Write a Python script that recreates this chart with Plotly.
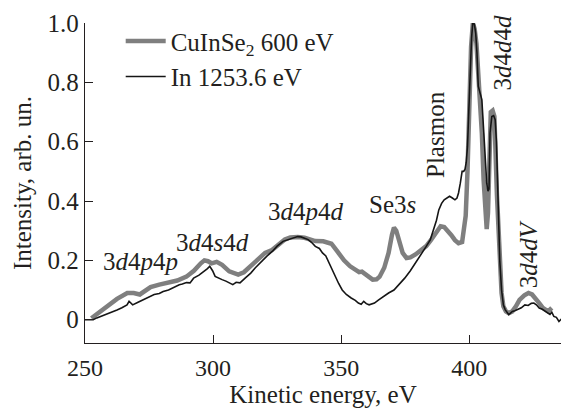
import plotly.graph_objects as go

# CuInSe2 600 eV (gray, thick)
cis_x = [252.5, 255.5, 258.8, 262.5, 266.5, 269.0, 271.4, 273.5, 275.6, 279.0, 282.6, 286.0, 289.6,
         292.5, 295.2, 296.6, 298.0, 299.4, 301.4, 303.5, 306.3, 309.8, 312.0, 314.7, 317.5, 320.3,
         323.0, 325.9, 328.0, 330.1, 333.0, 335.7, 338.0, 339.9, 343.0, 346.2, 348.5, 351.1, 353.5,
         355.3, 357.0, 358.1, 359.5, 361.0, 362.3, 363.8, 365.0, 366.8, 368.5, 369.8, 370.6, 371.5,
         372.7, 374.0, 375.5, 377.0, 379.0, 381.0, 383.2, 385.0, 386.7, 388.8, 390.2, 391.6, 393.0,
         394.4, 395.8, 397.2, 398.6, 399.3, 400.0, 400.7, 401.4, 402.1, 402.8, 403.8, 404.9, 405.6,
         406.3, 406.8, 407.3, 407.9, 408.4, 409.1, 409.8, 410.8, 411.9, 412.6, 413.3, 414.3, 415.4,
         416.8, 418.2, 419.6, 421.5, 423.1, 424.5, 425.9, 427.3, 428.7, 430.8, 432.2]
cis_y = [0.005, 0.025, 0.048, 0.07, 0.09, 0.09, 0.085, 0.098, 0.11, 0.118, 0.124, 0.132, 0.145,
         0.165, 0.19, 0.2, 0.197, 0.19, 0.195, 0.185, 0.163, 0.152, 0.16, 0.18, 0.2, 0.225,
         0.235, 0.258, 0.27, 0.277, 0.279, 0.276, 0.27, 0.265, 0.264, 0.256, 0.23, 0.2, 0.18,
         0.168, 0.16, 0.162, 0.152, 0.14, 0.135, 0.136, 0.145, 0.175, 0.225, 0.285, 0.31, 0.3,
         0.26, 0.225, 0.208, 0.21, 0.22, 0.232, 0.248, 0.268, 0.29, 0.315, 0.312, 0.3, 0.285,
         0.268, 0.258, 0.262, 0.35, 0.5, 0.74, 0.92, 1.0, 0.98, 0.93, 0.8, 0.63, 0.47,
         0.33, 0.305, 0.36, 0.55, 0.70, 0.705, 0.685, 0.42, 0.18, 0.09, 0.045, 0.028, 0.022,
         0.028, 0.045, 0.067, 0.082, 0.09, 0.085, 0.073, 0.056, 0.04, 0.028, 0.04]

# In 1253.6 eV (black, thin)
in_x = [250.0, 252.0, 253.2, 254.6, 256.5, 258.8, 261.0, 262.5, 264.4, 265.5, 266.4, 267.2, 268.0,
        268.6, 270.5, 272.8, 274.5, 275.5, 277.0, 279.0, 280.5, 282.6, 284.5, 286.8, 288.0, 289.6,
        291.0, 292.4, 294.5, 296.6, 297.8, 298.7, 299.8, 300.8, 302.0, 303.5, 305.0, 306.5, 307.7,
        309.0, 310.5, 312.5, 314.7, 316.5, 318.9, 321.0, 323.1, 325.0, 327.3, 329.5, 331.5, 333.0,
        334.3, 335.5, 337.1, 338.5, 339.9, 341.5, 342.7, 344.0, 344.8, 346.2, 347.6, 349.0, 350.4,
        352.0, 353.9, 355.5, 356.7, 357.8, 358.8, 359.8, 360.9, 362.0, 363.0, 364.5, 366.5, 368.5,
        370.6, 372.5, 374.8, 377.0, 379.0, 381.0, 383.2, 384.8, 386.0, 387.2, 388.1, 389.2, 390.2,
        391.3, 392.3, 393.4, 394.4, 395.2, 395.8, 396.5, 397.2, 397.8, 398.3, 398.8, 399.3, 399.8,
        400.3, 400.9, 401.4, 402.0, 402.5, 403.0, 403.5, 404.2, 404.9, 405.6, 406.3, 406.8, 407.3,
        407.7, 408.1, 408.8, 409.5, 410.1, 410.6, 411.2, 411.9, 412.6, 413.3, 414.0, 414.7, 415.4,
        416.1, 416.8, 417.8, 418.9, 420.3, 421.7, 423.0, 424.2, 425.2, 426.2, 427.3, 428.5, 429.4,
        430.3, 431.5, 432.2, 433.0, 434.0, 435.0, 435.9]
in_y = [0.0, 0.0, 0.0, 0.006, 0.012, 0.02, 0.028, 0.033, 0.04, 0.045, 0.05, 0.062, 0.055,
        0.05, 0.058, 0.067, 0.074, 0.078, 0.085, 0.088, 0.095, 0.1, 0.108, 0.118, 0.12, 0.125,
        0.124, 0.14, 0.15, 0.163, 0.172, 0.18, 0.165, 0.146, 0.14, 0.135, 0.13, 0.124, 0.118,
        0.126, 0.124, 0.14, 0.157, 0.175, 0.197, 0.214, 0.23, 0.248, 0.264, 0.27, 0.275, 0.28,
        0.279, 0.274, 0.27, 0.26, 0.247, 0.24, 0.225, 0.215, 0.2, 0.175, 0.146, 0.122, 0.1,
        0.085, 0.073, 0.065, 0.056, 0.052, 0.062, 0.054, 0.05, 0.052, 0.056, 0.066, 0.079, 0.09,
        0.1, 0.118, 0.14, 0.165, 0.19, 0.218, 0.247, 0.27, 0.303, 0.335, 0.37, 0.392, 0.404,
        0.41, 0.416, 0.41, 0.404, 0.41, 0.427, 0.46, 0.5, 0.5, 0.506, 0.53, 0.584, 0.7,
        0.854, 0.95, 1.005, 0.995, 0.966, 0.9, 0.787, 0.76, 0.742, 0.64, 0.517, 0.46, 0.433,
        0.44, 0.63, 0.685, 0.688, 0.674, 0.6, 0.40, 0.2, 0.1, 0.05, 0.034, 0.025, 0.017,
        0.022, 0.028, 0.03, 0.034, 0.04, 0.05, 0.048, 0.055, 0.056, 0.05, 0.039, 0.035, 0.03,
        0.022, 0.018, 0.025, 0.011, 0.008, -0.006, 0.002]

x_ticks = [250, 300, 350, 400]
y_ticks = [0, 0.2, 0.4, 0.6, 0.8, 1.0]
y_tick_text = ["0", "0.2", "0.4", "0.6", "0.8", "1.0"]

labels = ["3<i>d</i>4<i>p</i>4<i>p</i>", "3<i>d</i>4<i>s</i>4<i>d</i>", "3<i>d</i>4<i>p</i>4<i>d</i>",
          "Se3<i>s</i>", "Plasmon", "3<i>d</i>4<i>d</i>4<i>d</i>", "3<i>d</i>4<i>dV</i>"]
label_x = [271.5, 299.7, 336.1, 370.1, 386.9, 413.0, 423.1]
label_y = [0.195, 0.259, 0.366, 0.387, 0.625, 0.899, 0.222]
label_angle = [0, 0, 0, 0, -90, -90, -90]

FONT = "Liberation Serif"
TXT = "#231f20"

fig = go.Figure()
fig.add_trace(go.Scatter(x=cis_x, y=cis_y, mode="lines", name="CuInSe<sub>2</sub> 600 eV",
                         line=dict(color="#7f7f7f", width=4.5)))
fig.add_trace(go.Scatter(x=in_x, y=in_y, mode="lines", name="In 1253.6 eV",
                         line=dict(color="#151515", width=1.6)))

for t, x, y, a in zip(labels, label_x, label_y, label_angle):
    fig.add_annotation(x=x, y=y, text=t, textangle=a, showarrow=False,
                       font=dict(family=FONT, size=25, color=TXT))

fig.update_layout(
    width=561, height=408,
    margin=dict(l=85, r=0, t=23, b=65),
    paper_bgcolor="white", plot_bgcolor="white",
    font=dict(family=FONT, size=25, color=TXT),
    showlegend=True,
    legend=dict(x=0.075, y=1.015, xanchor="left", yanchor="top", itemwidth=40,
                bgcolor="rgba(0,0,0,0)", font=dict(family=FONT, size=25, color=TXT)),
    xaxis=dict(range=[250, 435.8], tickvals=x_ticks, ticks="inside", ticklen=8,
               tickwidth=1.3, tickcolor="#231f20", showline=True, linecolor="#231f20",
               linewidth=1.3, showgrid=False, zeroline=False, ticklabelstandoff=3,
               title=dict(text="Kinetic energy, eV", standoff=0,
                          font=dict(family=FONT, size=25, color=TXT)),
               tickfont=dict(family=FONT, size=24, color=TXT)),
    yaxis=dict(range=[-0.0786, 1.0], tickvals=y_ticks, ticktext=y_tick_text, ticks="inside",
               ticklen=8, tickwidth=1.3, tickcolor="#231f20", showline=True,
               linecolor="#231f20", linewidth=1.3, showgrid=False, zeroline=False,
               title=dict(text="Intensity, arb. un.", standoff=8,
                          font=dict(family=FONT, size=25, color=TXT)),
               tickfont=dict(family=FONT, size=25, color=TXT)),
)

fig.write_html("out.html")
